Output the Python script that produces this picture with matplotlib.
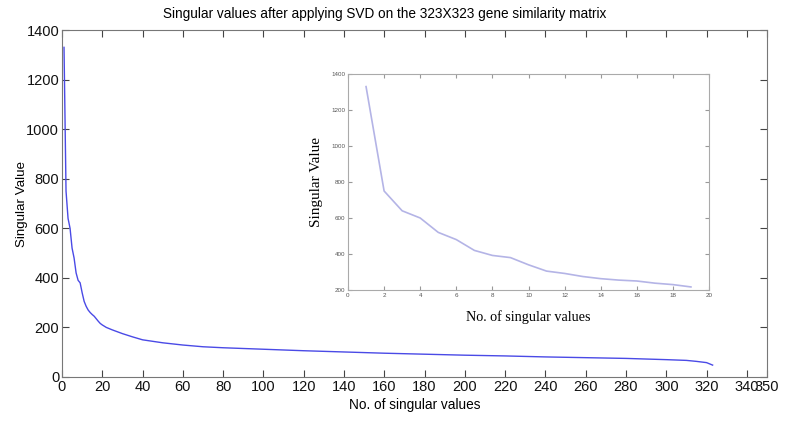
import matplotlib
matplotlib.use("Agg")
import matplotlib.pyplot as plt

# Main curve: read points (index, singular value)
main_x = [1, 2, 3, 4, 5, 6, 7, 8, 9, 10, 11, 12, 13, 14, 15, 16, 17, 18, 19, 20,
          22, 25, 30, 35, 40, 50, 60, 70, 80, 100, 120, 140, 160, 180, 200,
          220, 240, 260, 280, 300, 310, 315, 320, 323]
main_y = [1330, 750, 640, 600, 520, 480, 420, 390, 380, 340, 305, 285, 270, 260,
          252, 245, 235, 225, 216, 210, 200, 190, 175, 162, 150, 138, 129, 122,
          118, 112, 106, 101, 96, 92, 88, 85, 81, 78, 75, 70, 67, 63, 58, 48]

# Inset: first 19 singular values
inset_x = list(range(1, 20))
inset_y = [1330, 750, 640, 600, 520, 480, 420, 392, 380, 340, 305, 292, 275, 263,
           255, 250, 238, 230, 217]

main_xticks = [0, 20, 40, 60, 80, 100, 120, 140, 160, 180, 200, 220, 240, 260,
               280, 300, 320, 340, 350]
main_yticks = [0, 200, 400, 600, 800, 1000, 1200, 1400]
inset_xticks = [0, 2, 4, 6, 8, 10, 12, 14, 16, 18, 20]
inset_yticks = [200, 400, 600, 800, 1000, 1200, 1400]

plt.rcParams['font.family'] = ['Liberation Sans', 'DejaVu Sans']

W, H = 788, 424
fig = plt.figure(figsize=(W / 100, H / 100), dpi=100)

ax = fig.add_axes([62 / W, 1 - 377 / H, (767 - 62) / W, (377 - 30) / H])
ax.plot(main_x, main_y, color='#4a4ae6', lw=1.0)
ax.set_xlim(0, 350)
ax.set_ylim(0, 1400)
ax.set_xticks(main_xticks)
ax.set_xticklabels([str(t) for t in main_xticks])
ax.set_yticks(main_yticks)
ax.tick_params(direction='in', top=True, right=True, labelsize=10.5,
               length=5, color='#444444', labelcolor='#111111', pad=2)
for s in ax.spines.values():
    s.set_color('#777777')
ax.set_xlabel('No. of singular values', fontsize=9.8, labelpad=3)
ax.set_ylabel('Singular Value', fontsize=9.6, labelpad=-1)
fig.text(385 / W, 1 - 14 / H,
         'Singular values after applying SVD on the 323X323 gene similarity matrix',
         fontsize=9.8, ha='center', va='center')

iax = fig.add_axes([348 / W, 1 - 290 / H, (709 - 348) / W, (290 - 74) / H])
iax.plot(inset_x, inset_y, color='#b4b4e6', lw=1.2)
iax.set_xlim(0, 20)
iax.set_ylim(200, 1400)
iax.set_xticks(inset_xticks)
iax.set_yticks(inset_yticks)
iax.tick_params(direction='in', top=True, right=True, labelsize=4.5,
                length=3, color='#999999', labelcolor='#555555', pad=2)
for s in iax.spines.values():
    s.set_color('#aaaaaa')
iax.set_xlabel('No. of singular values', family=['Liberation Serif', 'DejaVu Serif'],
               fontsize=10.2, labelpad=9)
iax.set_ylabel('Singular Value', family=['Liberation Serif', 'DejaVu Serif'],
               fontsize=11, labelpad=6)

fig.savefig('out.png', dpi=100)
